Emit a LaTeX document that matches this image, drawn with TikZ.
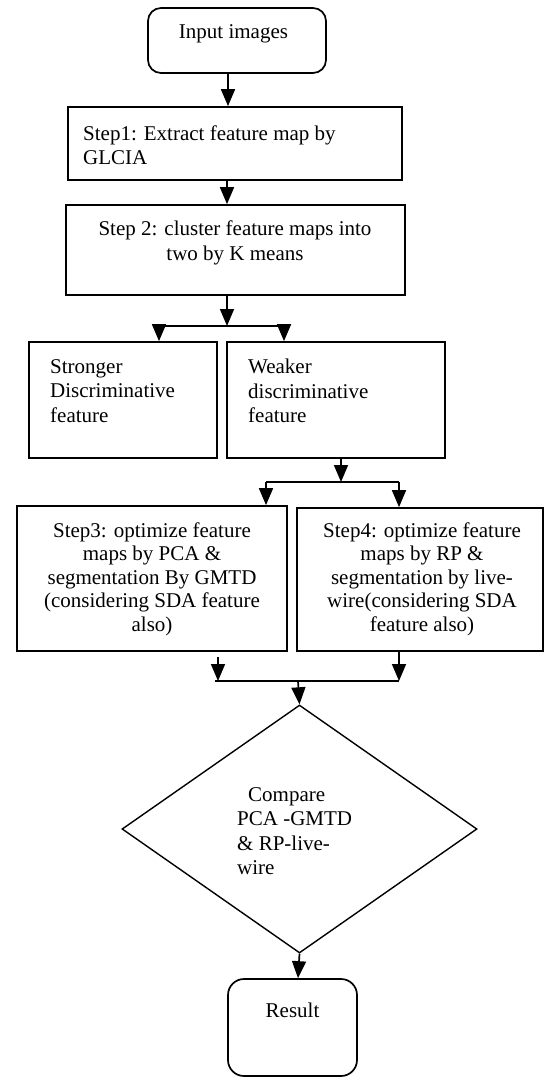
\documentclass[tikz,border=0pt]{standalone}
\usepackage{fontspec}
\setmainfont{Liberation Serif}
\usetikzlibrary{arrows.meta,shapes.geometric}
\begin{document}
\begin{tikzpicture}[x=1pt,y=-1pt,
  font=\fontsize{21}{24.5}\selectfont,
  box/.style={draw,line width=1.7pt,inner sep=0pt},
  rbox/.style={box,rounded corners=13pt},
  txt/.style={inner sep=0pt},
  arr/.style={line width=1.7pt,-{Triangle[length=17pt,width=14pt]}},
  ln/.style={line width=1.7pt}]
\useasboundingbox (0,0) rectangle (559,1078);
% boxes
\node[rbox,minimum width=178pt,minimum height=65pt] (in) at (237,40.5) {};
\node[box,minimum width=334pt,minimum height=73pt] (s1) at (235,143.5) {};
\node[box,minimum width=339pt,minimum height=90pt] (s2) at (235.5,250) {};
\node[box,minimum width=188pt,minimum height=116pt] (str) at (123,400) {};
\node[box,minimum width=218pt,minimum height=116pt] (wk) at (336,400) {};
\node[box,minimum width=270pt,minimum height=145pt] (s3) at (152,578.5) {};
\node[box,minimum width=246pt,minimum height=143pt] (s4) at (420,579.5) {};
\node[draw,line width=1.4pt,diamond,inner sep=0pt,minimum width=355pt,minimum height=248pt] (dia) at (299.5,829) {};
\node[rbox,rounded corners=16pt,minimum width=129pt,minimum height=97pt] (res) at (292.5,1027.5) {};
% texts
\node[txt] (tin) at (233.5,34) {Input images};
\node[txt,anchor=west,align=left] (ts1) at (83,145) {Step1: Extract feature map by\\GLCIA};
\node[txt,align=center] (ts2) at (235,243) {Step 2: cluster feature maps into\\two by K means};
\node[txt,anchor=west,align=left] (tstr) at (50,391) {Stronger\\Discriminative\\feature};
\node[txt,anchor=west,align=left] (twk) at (248,391) {Weaker\\discriminative\\feature};
\node[txt,align=center,font=\fontsize{21}{23.5}\selectfont] (ts3) at (152,579) {Step3: optimize feature\\maps by PCA \&\\segmentation By GMTD\\(considering SDA feature\\also)};
\node[txt,align=center,font=\fontsize{21}{23.5}\selectfont] (ts4) at (422,579) {Step4: optimize feature\\maps by RP \&\\segmentation by live-\\wire(considering SDA\\feature also)};
\node[txt,anchor=west,align=left] (tdia) at (237,831) {\hspace{11pt}Compare\\PCA -GMTD\\\& RP-live-\\wire};
\node[txt] (tres) at (292.5,1010) {Result};
% coordinates
\coordinate (xa) at (228,0);
\coordinate (xb) at (227,0);
\coordinate (j1) at (227,326);
\coordinate (j1l) at (153,326);
\coordinate (j1r) at (290,326);
\coordinate (a1) at (159,326);
\coordinate (a2) at (284,326);
\coordinate (xw) at (341,0);
\coordinate (j2) at (341,482);
\coordinate (j2l) at (266,482);
\coordinate (j2r) at (399,482);
\coordinate (x3) at (218,0);
\coordinate (x3s) at (218,657);
\coordinate (x4) at (399,0);
\coordinate (j3l) at (215,681);
\coordinate (j3r) at (399,681);
\coordinate (j3a) at (218,681);
\coordinate (j3m) at (298,681);
\coordinate (xd) at (298,0);
% connectors
\draw[arr] (xa |- in.south) -- (xa |- s1.north);
\draw[arr] (xb |- s1.south) -- (xb |- s2.north);
\draw[arr] (xb |- s2.south) -- (j1);
\draw[ln] (j1l) -- (j1r);
\draw[arr] (a1) -- (a1 |- str.north);
\draw[arr] (a2) -- (a2 |- wk.north);
\draw[arr] (xw |- wk.south) -- (j2);
\draw[ln] (j2l) -- (j2r);
\draw[arr] (j2l) -- (j2l |- s3.north);
\draw[arr] (j2r) -- (j2r |- s4.north);
\draw[arr] (x3s) -- (j3a);
\draw[arr] (x4 |- s4.south) -- (j3r);
\draw[ln] (j3l) -- (j3r);
\draw[arr] (j3m) -- (dia.north);
\draw[arr] (dia.south) -- (xd |- res.north);
\end{tikzpicture}
\end{document}
